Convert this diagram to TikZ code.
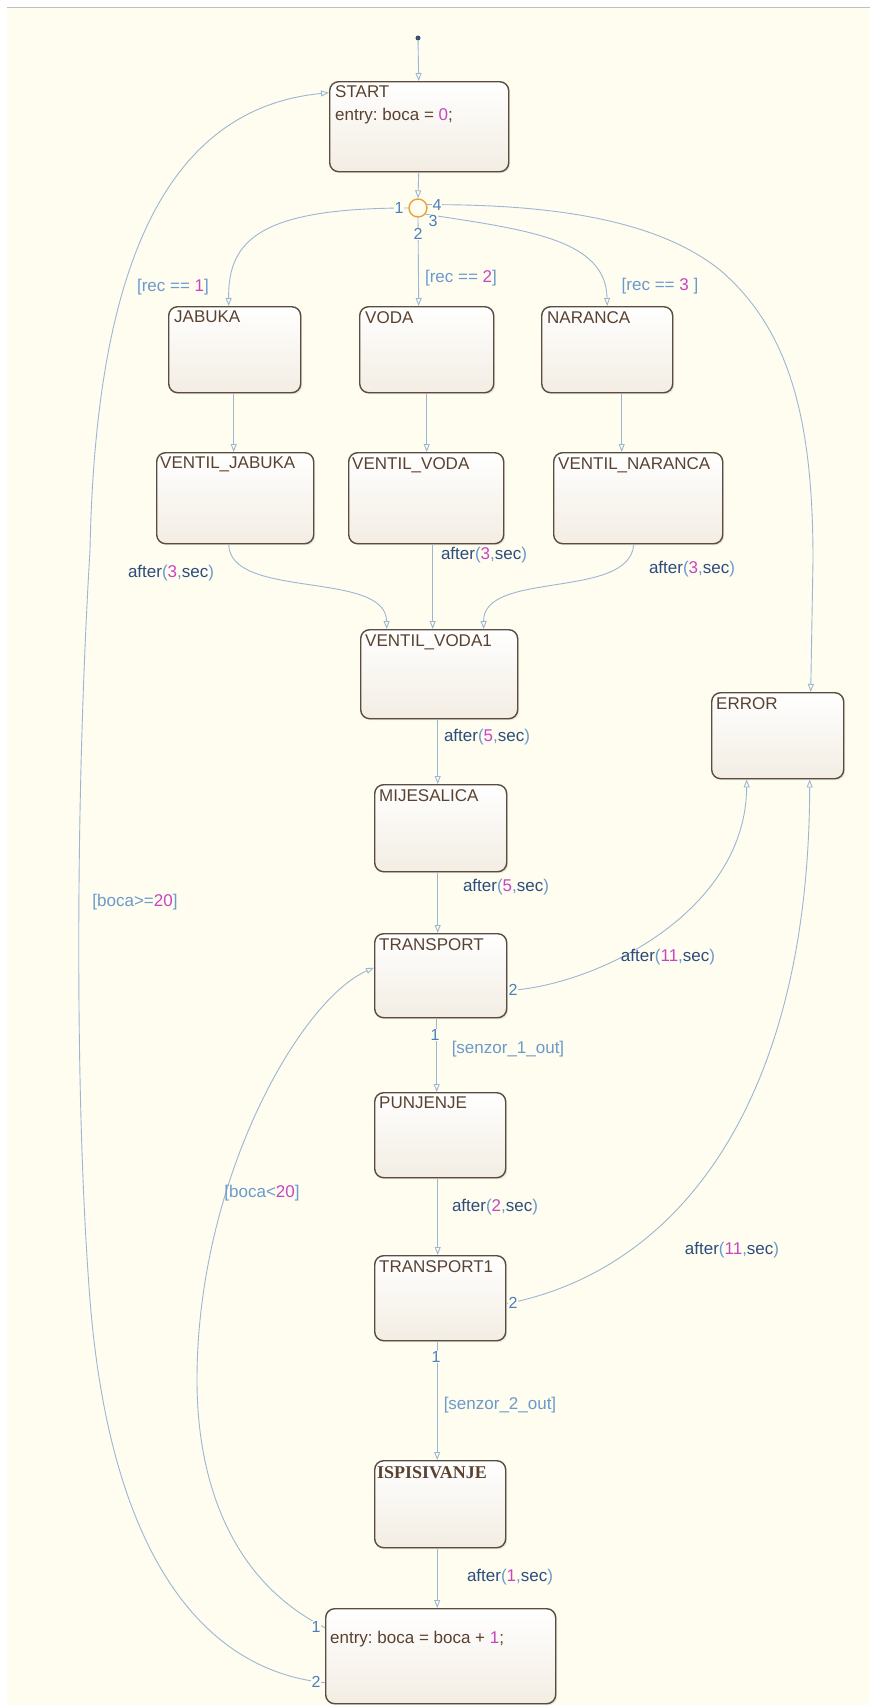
\documentclass[tikz,border=0pt]{standalone}
\usepackage{fontspec}
\setmainfont{Liberation Sans}
\newfontfamily\serifbold{Liberation Serif}
\usetikzlibrary{arrows.meta,shadows}

\definecolor{bg}{HTML}{FEFDF0}
\definecolor{wire}{HTML}{9DB6D2}
\definecolor{brd}{HTML}{5A4C40}
\definecolor{stbot}{HTML}{F3EDE3}
\definecolor{ttl}{HTML}{5A4230}
\definecolor{grd}{HTML}{6B9ACB}
\definecolor{numc}{HTML}{C845C0}
\definecolor{evt}{HTML}{2E4C7C}
\definecolor{jn}{HTML}{E8A33C}
\definecolor{pn}{HTML}{4A7FBE}
\definecolor{dotc}{HTML}{3B5070}

\newcommand\numtxt[1]{\textcolor{numc}{#1}}
\newcommand\afterlbl[1]{\textcolor{evt}{after}\textcolor{grd}{(}\textcolor{numc}{#1}\textcolor{grd}{,}\textcolor{evt}{sec}\textcolor{grd}{)}}

\tikzset{
  stbox/.style={draw=brd, line width=1.4pt, rounded corners=9pt, top color=white,
    bottom color=stbot, drop shadow={opacity=0.18, shadow xshift=1.5pt, shadow yshift=-1.5pt},
    anchor=north west, inner sep=0pt},
  ttlstyle/.style={anchor=north west, inner sep=0pt, text=ttl, font=\fontsize{17}{23}\selectfont\frenchspacing, align=left},
  lbl/.style={inner sep=0pt, font=\fontsize{17}{20}\selectfont\frenchspacing},
  pnum/.style={inner sep=0.6pt, text=pn, font=\fontsize{16}{18}\selectfont, fill=bg},
  wireS/.style={draw=wire, line width=0.9pt, -{Triangle[open, length=8pt, width=6pt]}},
}

\begin{document}
\begin{tikzpicture}[x=1pt,y=-1pt]
\useasboundingbox (0,0) rectangle (870,1706);
\fill[white] (0,0) rectangle (870,1706);
\fill[bg] (7,8) rectangle (870,1705);
\draw[black!25, line width=1pt] (7,7.5) -- (870,7.5);

% states
\node[stbox, minimum width=179pt, minimum height=90pt] (start) at (329,81) {};
\node[ttlstyle] (startT) at (335,85) {START\\entry: boca = \numtxt{0};};

\node[stbox, minimum width=132pt, minimum height=86pt] (ja) at (168,306) {};
\node[ttlstyle] (jaT) at (174,311) {JABUKA};
\node[stbox, minimum width=134pt, minimum height=86pt] (vo) at (359,306) {};
\node[ttlstyle] (voT) at (365,311) {VODA};
\node[stbox, minimum width=131pt, minimum height=86pt] (na) at (541,306) {};
\node[ttlstyle] (naT) at (547,311) {NARANCA};

\node[stbox, minimum width=157pt, minimum height=91pt] (vj) at (156,452) {};
\node[ttlstyle] (vjT) at (160,457) {VENTIL\_JABUKA};
\node[stbox, minimum width=155pt, minimum height=91pt] (vv) at (348,452) {};
\node[ttlstyle] (vvT) at (352,457) {VENTIL\_VODA};
\node[stbox, minimum width=169pt, minimum height=91pt] (vn) at (553,452) {};
\node[ttlstyle] (vnT) at (558,457) {VENTIL\_NARANCA};

\node[stbox, minimum width=157pt, minimum height=89pt] (vv1) at (360,629) {};
\node[ttlstyle] (vv1T) at (365,634) {VENTIL\_VODA1};

\node[stbox, minimum width=132pt, minimum height=86pt] (err) at (711,692) {};
\node[ttlstyle] (errT) at (716,697) {ERROR};

\node[stbox, minimum width=132pt, minimum height=87pt] (mij) at (374,784) {};
\node[ttlstyle] (mijT) at (379,789) {MIJESALICA};

\node[stbox, minimum width=132pt, minimum height=84pt] (tr) at (374,933) {};
\node[ttlstyle] (trT) at (379,938) {TRANSPORT};

\node[stbox, minimum width=131pt, minimum height=85pt] (pu) at (374,1092) {};
\node[ttlstyle] (puT) at (379,1097) {PUNJENJE};

\node[stbox, minimum width=131pt, minimum height=85pt] (t1) at (374,1255) {};
\node[ttlstyle] (t1T) at (379,1260) {TRANSPORT1};

\node[stbox, minimum width=131pt, minimum height=87pt] (isp) at (374,1460) {};
\node[ttlstyle, font=\fontsize{18}{22}\selectfont\serifbold\bfseries] (ispT) at (377,1466) {ISPISIVANJE};

\node[stbox, minimum width=230pt, minimum height=95pt] (bot) at (325,1608) {};
\node[ttlstyle, anchor=west] (botT) at (330,1639) {entry: boca = boca + \numtxt{1};};

% initial dot and junction
\node[circle, fill=dotc, inner sep=0pt, minimum size=5pt] (init) at (418,38) {};
\node[circle, draw=jn, line width=1.4pt, minimum size=18pt, inner sep=0pt, fill=bg] (junc) at (418,208) {};

% straight transitions
\draw[wireS] (init) -- ([xshift=-0.5pt]start.north);
\draw[wireS] ([xshift=-0.5pt]start.south) -- (junc.north);
\draw[wireS] (junc.south) -- ([xshift=-8pt]vo.north);
\draw[wireS] ([xshift=-1pt]ja.south) -- ([xshift=-1pt]ja.south |- vj.north);
\draw[wireS] (vo.south) -- (vo.south |- vv.north);
\draw[wireS] ([xshift=14.5pt]na.south) -- ([xshift=14.5pt]na.south |- vn.north);
\draw[wireS] ([xshift=6.5pt]vv.south) -- ([xshift=6.5pt]vv.south |- vv1.north);
\draw[wireS] ([xshift=-3pt]mij.north |- vv1.south) -- ([xshift=-3pt]mij.north);
\draw[wireS] ([xshift=-3pt]mij.south) -- ([xshift=-3pt]mij.south |- tr.north);
\draw[wireS] ([xshift=-4pt]tr.south) -- ([xshift=-4pt]tr.south |- pu.north);
\draw[wireS] ([xshift=-2.5pt]pu.south) -- ([xshift=-2.5pt]pu.south |- t1.north);
\draw[wireS] ([xshift=-3pt]t1.south) -- ([xshift=-3pt]t1.south |- isp.north);
\draw[wireS] ([xshift=-3pt]isp.south) -- ([xshift=-3pt]isp.south |- bot.north);

% curved transitions
\draw[wireS] (junc.west) .. controls (260,208) and (228,240) .. ([xshift=-6pt]ja.north);
\draw[wireS] (junc.-40) .. controls (530,230) and (606,240) .. (na.north);
\draw[wireS] (junc.20) .. controls (560,204) and (660,222) .. (720,270)
   .. controls (790,330) and (813,420) .. (813,560) -- ([xshift=33pt]err.north);
\draw[wireS] ([xshift=-6.5pt]vj.south) .. controls (230,600) and (386,570) .. ([xshift=-52.5pt]vv1.north);
\draw[wireS] ([xshift=-4.5pt]vn.south) .. controls (630,600) and (483,570) .. ([xshift=44.5pt]vv1.north);
\draw[wireS] ([yshift=-15pt]tr.east) .. controls (600,985) and (746,910) .. ([xshift=-31pt]err.south);
\draw[wireS] ([yshift=-5.5pt]t1.east) .. controls (680,1270) and (809,1100) .. ([xshift=32pt]err.south);
\draw[wireS] ([yshift=28.5pt]bot.west) .. controls (230,1580) and (197,1480) .. (197,1380)
   .. controls (197,1180) and (300,1000) .. ([yshift=8pt]tr.west);
\draw[wireS] ([yshift=-26.5pt]bot.west) .. controls (200,1670) and (110,1550) .. (90,1300)
   .. controls (75,1110) and (75,800) .. (90,550)
   .. controls (95,300) and (150,110) .. ([yshift=34pt]start.west);

% junction / port numbers
\node[pnum] (p1) at (399,208) {1};
\node[pnum] (p4) at (437,205) {4};
\node[pnum] (p3) at (433,221) {3};
\node[pnum] (p2) at (418,234) {2};
\node[pnum] (trp2) at (513,990) {2};
\node[pnum] (trp1) at (435,1035) {1};
\node[pnum] (t1p2) at (513,1303) {2};
\node[pnum] (t1p1) at (436,1357) {1};
\node[pnum] (botp1) at (316,1627) {1};
\node[pnum] (botp2) at (316,1682) {2};

% labels
\node[lbl] (g1) at (173,287) {\textcolor{grd}{[rec == }\numtxt{1}\textcolor{grd}{]}};
\node[lbl] (g2) at (461,278) {\textcolor{grd}{[rec == }\numtxt{2}\textcolor{grd}{]}};
\node[lbl] (g3) at (660,286) {\textcolor{grd}{[rec == }\numtxt{3}\textcolor{grd}{\ ]}};
\node[lbl] (a1) at (171,573) {\afterlbl{3}};
\node[lbl] (a2) at (484,555) {\afterlbl{3}};
\node[lbl] (a3) at (692,569) {\afterlbl{3}};
\node[lbl] (a4) at (487,737) {\afterlbl{5}};
\node[lbl] (a5) at (506,887) {\afterlbl{5}};
\node[lbl] (a6) at (668,957) {\afterlbl{11}};
\node[lbl] (s1) at (508,1049) {\textcolor{grd}{[senzor\_1\_out]}};
\node[lbl] (a7) at (495,1207) {\afterlbl{2}};
\node[lbl] (a8) at (732,1250) {\afterlbl{11}};
\node[lbl] (s2) at (500,1405) {\textcolor{grd}{[senzor\_2\_out]}};
\node[lbl] (a9) at (510,1577) {\afterlbl{1}};
\node[lbl] (b1) at (262,1193) {\textcolor{grd}{[boca<}\numtxt{20}\textcolor{grd}{]}};
\node[lbl] (b2) at (135,902) {\textcolor{grd}{[boca>=}\numtxt{20}\textcolor{grd}{]}};
\end{tikzpicture}
\end{document}
